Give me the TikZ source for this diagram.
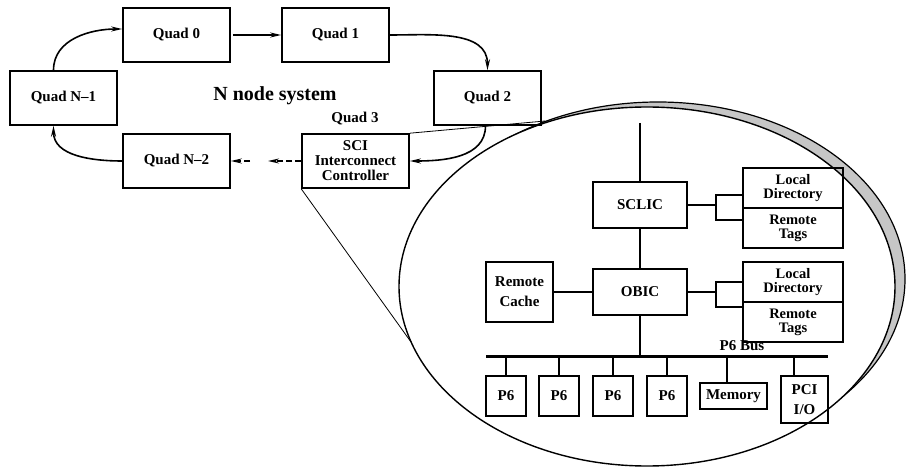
\documentclass[tikz,border=0pt]{standalone}
\usepackage{fontspec}
\setmainfont{Liberation Serif}
\usetikzlibrary{arrows.meta}

\begin{document}
\begin{tikzpicture}[x=1pt,y=-1pt,
    box/.style={draw,line width=1.6pt,inner sep=0pt,align=center,
      font=\bfseries\fontsize{15}{15}\selectfont},
    quad/.style={box,minimum width=107pt,minimum height=54pt},
    chip/.style={box,minimum width=94pt,minimum height=46pt},
    tagbox/.style={box,minimum width=100pt,minimum height=40pt,
      font=\bfseries\fontsize{14.5}{14}\selectfont},
    cpu/.style={box,minimum width=40pt,minimum height=40pt},
    label/.style={font=\bfseries\fontsize{15}{15}\selectfont},
    link/.style={line width=1.6pt,-{Stealth[length=11pt,width=5pt]}},
    dashlink/.style={link,dash pattern=on 6pt off 3pt},
    wire/.style={line width=1.8pt},
    lens/.style={line width=0.8pt}]
    \useasboundingbox (0,0) rectangle (906,468);

    \filldraw[fill=gray!45,line width=1.2pt] (658,279) ellipse [x radius=247,y radius=177];
    \filldraw[fill=white,line width=1.4pt] (647,286.5) ellipse [x radius=248,y radius=179.5];

    \node[quad] (q0) at (176.5,35) {Quad 0};
    \node[quad] (q1) at (335.5,35) {Quad 1};
    \node[quad] (q2) at (487.5,98) {Quad 2};
    \node[quad] (qn1) at (63.5,98) {Quad N--1};
    \node[quad] (qn2) at (176.5,161) {Quad N--2};
    \node[quad] (sci) at (355.5,161) {SCI\\Interconnect\\Controller};
    \node[font=\bfseries\fontsize{20}{22}\selectfont] (title) at (275,96) {N node system};
    \node[label] (q3) at (355,119) {Quad 3};

    \draw[link] ([xshift=-10pt]qn1.north) to[out=90,in=180] ([yshift=6pt]q0.west);
    \draw[link] ([xshift=2pt]q0.east) -- (q1.west);
    \draw[link] (q1.east) to[out=0,in=90] (q2.north);
    \draw[link] ([xshift=-2pt]q2.south) to[out=-90,in=0] (sci.east);
    \coordinate (d1) at (268,161);
    \coordinate (d2) at (250,161);
    \draw[dashlink] (sci.west) -- (d1);
    \draw[dashlink] (d2) -- (qn2.east);
    \draw[link] (qn2.west) to[out=180,in=-90] ([xshift=-10pt]qn1.south);

    \coordinate (t1) at (545,121);
    \coordinate (t2) at (411,342);
    \draw[lens] (sci.north east) -- (t1);
    \draw[lens] (sci.south west) -- (t2);

    \coordinate (top) at (640,123);
    \node[chip] (sclic) at (640,205) {SCLIC};
    \node[chip] (obic) at (640,292) {OBIC};
    \node[box,minimum width=67pt,minimum height=60pt] (rcache) at (519.5,292) {Remote\\[5pt]Cache};
    \node[tagbox] (ld1) at (793,188) {Local\\Directory};
    \node[tagbox] (rt1) at (793,228) {Remote\\Tags};
    \node[tagbox] (ld2) at (793,282) {Local\\Directory};
    \node[tagbox] (rt2) at (793,322) {Remote\\Tags};

    \draw[wire] (top) -- (sclic.north);
    \draw[wire] (sclic.south) -- (obic.north);
    \draw[wire] (rcache.east) -- (obic.west);
    \coordinate (j1) at (716,205);
    \coordinate (j2) at (716,292);
    \draw[wire] (sclic.east) -- (j1);
    \draw[wire] ([yshift=-7pt]ld1.west) -| (j1) |- ([yshift=8pt]rt1.west);
    \draw[wire] (obic.east) -- (j2);
    \draw[wire] (ld2.west) -| (j2) |- ([yshift=15pt]rt2.west);

    \coordinate (busL) at (486,356);
    \coordinate (busR) at (828,356);
    \draw[line width=3pt] (busL) -- (busR);
    \node[label] (buslbl) at (742,346) {P6 Bus};
    \draw[wire] (obic.south) -- (obic.south |- busL);

    \node[cpu] (p1) at (506,396) {P6};
    \node[cpu] (p2) at (559,396) {P6};
    \node[cpu] (p3) at (613,396) {P6};
    \node[cpu] (p4) at (667,396) {P6};
    \node[box,minimum width=67pt,minimum height=26pt] (mem) at (733.5,396) {Memory};
    \node[box,minimum width=47pt,minimum height=47pt] (pci) at (804.5,399.5) {PCI\\[5pt]I/O};
    \foreach \n in {p1,p2,p3,p4}
      \draw[wire] (\n.north |- busL) -- (\n.north);
    \draw[wire] ([xshift=-6.5pt]mem.north |- busL) -- ([xshift=-6.5pt]mem.north);
    \draw[wire] ([xshift=-10.5pt]pci.north |- busL) -- ([xshift=-10.5pt]pci.north);
\end{tikzpicture}
\end{document}
